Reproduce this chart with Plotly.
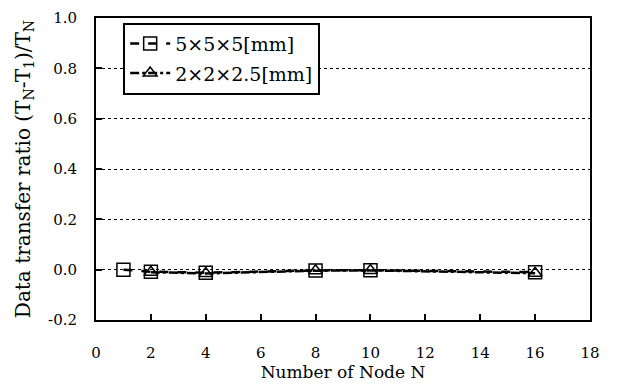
import plotly.graph_objects as go

nodes_a = [1, 2, 4, 8, 10, 16]
ratio_a = [0.0, -0.008, -0.012, -0.003, -0.002, -0.010]
nodes_b = [2, 4, 8, 10, 16]
ratio_b = [-0.010, -0.015, -0.004, -0.003, -0.014]
names = ["5×5×5[mm]", "2×2×2.5[mm]"]
x_ticks = list(range(0, 19, 2))
y_ticks = [-0.2, 0.0, 0.2, 0.4, 0.6, 0.8, 1.0]

FAM = "DejaVu Serif"
font = dict(family=FAM, color="black", size=14)

fig = go.Figure()
fig.add_trace(go.Scatter(
    x=nodes_a, y=ratio_a, name=names[0], mode="lines+markers", legendgroup="a",
    line=dict(color="black", width=2.5, dash="dash"),
    marker=dict(symbol="square-open", size=13, color="black", line=dict(width=1.5)),
))
fig.add_trace(go.Scatter(
    x=nodes_b, y=ratio_b, name=names[1], mode="lines+markers", legendgroup="b",
    line=dict(color="black", width=2.5, dash="dashdot"),
    marker=dict(symbol="triangle-up-open", size=12, color="black", line=dict(width=1.5)),
))

fig.update_layout(
    width=613, height=377,
    margin=dict(l=88, r=31, t=10, b=65),
    paper_bgcolor="white", plot_bgcolor="white",
    font=font,
    showlegend=True,
    legend=dict(
        x=0.055, y=0.985, xanchor="left", yanchor="top",
        bordercolor="black", borderwidth=2, bgcolor="white",
        font=dict(size=19, family=FAM, color="black"),
        tracegroupgap=2, itemwidth=40,
    ),
    xaxis=dict(
        range=[0, 18], tickvals=x_ticks, ticktext=[str(v) for v in x_ticks],
        showgrid=False, zeroline=False, automargin=False,
        showline=True, linecolor="black", linewidth=2, mirror=True,
        ticks="inside", ticklen=6, tickwidth=2, tickcolor="black",
        ticklabelstandoff=18,
        title=dict(text="Number of Node N", standoff=2, font=dict(size=17, family=FAM)),
        tickfont=dict(size=15, family=FAM),
    ),
    yaxis=dict(
        range=[-0.2, 1.0], tickvals=y_ticks, ticktext=[f"{v:.1f}" for v in y_ticks],
        showgrid=True, gridcolor="black", griddash="dot", gridwidth=1,
        zeroline=False, automargin=False,
        showline=True, linecolor="black", linewidth=2, mirror=True,
        ticks="inside", ticklen=6, tickwidth=2, tickcolor="black",
        ticklabelstandoff=14,
        title=dict(text="Data transfer ratio (T<sub>N</sub>-T<sub>1</sub>)/T<sub>N</sub>", standoff=12, font=dict(size=20, family=FAM)),
        tickfont=dict(size=15, family=FAM),
    ),
)

fig.write_html("out.html")
